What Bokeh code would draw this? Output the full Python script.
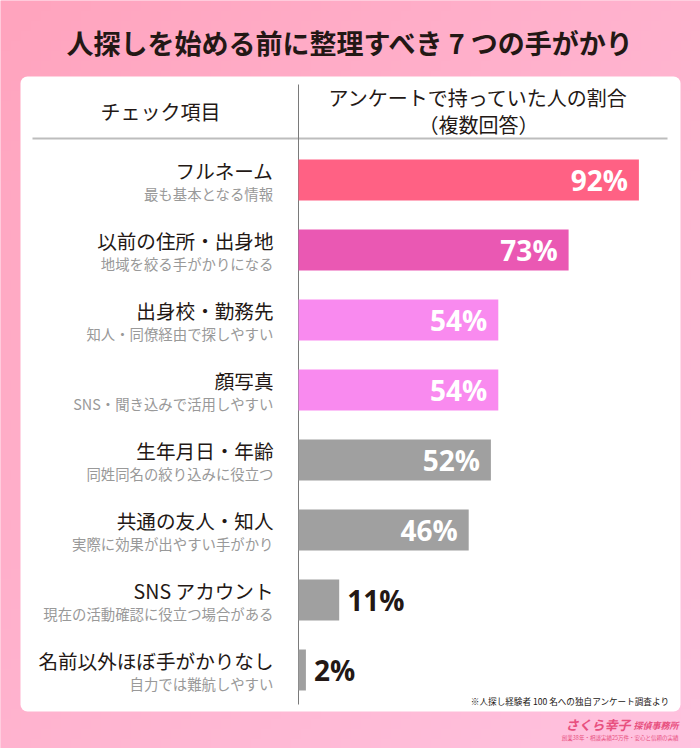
import numpy as np
from bokeh.plotting import figure
from bokeh.models import Range1d, ColumnDataSource
from bokeh.core.properties import value
from bokeh.embed import file_html
from bokeh.resources import INLINE

# ---------------- data ----------------
title = "人探しを始める前に整理すべき 7 つの手がかり"
col_left = "チェック項目"
col_right = ["アンケートで持っていた人の割合", "（複数回答）"]
items = ["フルネーム", "以前の住所・出身地", "出身校・勤務先", "顔写真",
         "生年月日・年齢", "共通の友人・知人", "SNS アカウント", "名前以外ほぼ手がかりなし"]
notes = ["最も基本となる情報", "地域を絞る手がかりになる", "知人・同僚経由で探しやすい",
         "SNS・聞き込みで活用しやすい", "同姓同名の絞り込みに役立つ", "実際に効果が出やすい手がかり",
         "現在の活動確認に役立つ場合がある", "自力では難航しやすい"]
shares = [92, 73, 54, 54, 52, 46, 11, 2]
colors = ["#FF6184", "#EA58B3", "#F98AEF", "#F98AEF",
          "#A0A0A0", "#A0A0A0", "#A0A0A0", "#A0A0A0"]
footnote = "※人探し経験者 100 名への独自アンケート調査より"
brand = "さくら幸子"
brand2 = "探偵事務所"
brand_sub = "創業38年・相談実績25万件・安心と信頼の実績"

JP = "Noto Sans CJK JP"
W, H = 700, 748
BAR0 = 298          # pixel where 0 % sits
PX_PER_PCT = 3.7
ROW0, PITCH = 179.5, 70

p = figure(width=W, height=H, x_range=Range1d(0, W), y_range=Range1d(H, 0),
           output_backend="svg", toolbar_location=None, min_border=0,
           x_axis_location=None, y_axis_location=None, outline_line_color=None)
p.grid.visible = False
p.background_fill_color = "#FFB0CB"
p.border_fill_color = "#FFB0CB"

p.extra_x_ranges = {"pct": Range1d(-BAR0 / PX_PER_PCT, (W - BAR0) / PX_PER_PCT)}
p.extra_y_ranges = {"row": Range1d((H - ROW0) / PITCH, -ROW0 / PITCH)}

# background gradient (decoration)
gh, gw = 75, 70
yy, xx = np.mgrid[0:gh, 0:gw]
t = (xx / (gw - 1) * 0.5 + yy / (gh - 1) * 0.5)
c0 = np.array([255, 164, 190]); c1 = np.array([255, 195, 224])
img = np.empty((gh, gw), dtype=np.uint32)
view = img.view(dtype=np.uint8).reshape((gh, gw, 4))
for k in range(3):
    view[:, :, k] = (c0[k] + (c1[k] - c0[k]) * t).astype(np.uint8)
view[:, :, 3] = 255
p.image_rgba(image=[img], x=0, y=0, dw=W, dh=H)

# white panel
p.quad(left=20, right=680, top=76, bottom=711, fill_color="white",
       line_color=None, border_radius=7)

# title
p.text(x=[W / 2], y=[42], text=[title], text_align="center", text_baseline="middle",
       text_font=value(JP), text_font_size="27px", text_font_style="bold",
       text_color="#231815")

# header
p.text(x=[160], y=[111], text=[col_left], text_align="center", text_baseline="middle",
       text_font=value(JP), text_font_size="20px", text_color="#231815")
p.text(x=[478, 478], y=[97, 124], text=col_right, text_align="center",
       text_baseline="middle", text_font=value(JP), text_font_size="20px",
       text_color="#231815")
p.segment(x0=[32], y0=[138], x1=[667], y1=[138], line_color="#BDBDBD", line_width=2)
p.segment(x0=[BAR0], y0=[84], x1=[BAR0], y1=[704], line_color="#7A7A7A", line_width=1)

rows = list(range(len(items)))
src = ColumnDataSource(dict(row=rows, item=items, note=notes, share=shares, color=colors))

p.hbar(y="row", left=0, right="share", height=41 / PITCH, fill_color="color",
       line_color=None, source=src, x_range_name="pct", y_range_name="row")

p.text(x=273, y="row", text="item", source=src, y_range_name="row",
       text_align="right", text_baseline="middle", y_offset=-10,
       text_font=value(JP), text_font_size="19.6px", text_color="#231815")
p.text(x=273, y="row", text="note", source=src, y_range_name="row",
       text_align="right", text_baseline="middle", y_offset=13,
       text_font=value(JP), text_font_size="14.4px", text_color="#999999")

inside = [i for i, v in enumerate(shares) if v >= 20]
outside = [i for i, v in enumerate(shares) if v < 20]
src_in = ColumnDataSource(dict(row=[rows[i] for i in inside], share=[shares[i] for i in inside],
                               label=[f"{shares[i]}%" for i in inside]))
src_out = ColumnDataSource(dict(row=[rows[i] for i in outside], share=[shares[i] for i in outside],
                                label=[f"{shares[i]}%" for i in outside]))
p.text(x="share", y="row", text="label", source=src_in, x_range_name="pct",
       y_range_name="row", x_offset=-11, text_align="right", text_baseline="middle",
       text_font=value("Open Sans"), text_font_style="bold", text_font_size="28px",
       text_color="white")
p.text(x="share", y="row", text="label", source=src_out, x_range_name="pct",
       y_range_name="row", x_offset=8, text_align="left", text_baseline="middle",
       text_font=value("Open Sans"), text_font_style="bold", text_font_size="28px",
       text_color="#231815")

# footnote
p.text(x=[669], y=[700], text=[footnote], text_align="right", text_baseline="middle",
       text_font=value(JP), text_font_size="8.6px", text_color="#231815")

# brand
p.text(x=[565], y=[724], text=[brand], text_align="left", text_baseline="middle",
       text_font=value(JP), text_font_size="13px", text_font_style="bold italic",
       text_color="#E8507F")
p.text(x=[678], y=[725], text=[brand2], text_align="right", text_baseline="middle",
       text_font=value(JP), text_font_size="9px", text_font_style="bold italic",
       text_color="#E8507F")
p.text(x=[678], y=[737], text=[brand_sub], text_align="right", text_baseline="middle",
       text_font=value(JP), text_font_size="5.5px", text_color="#E8507F")

open("out.html", "w").write(file_html(p, INLINE))
